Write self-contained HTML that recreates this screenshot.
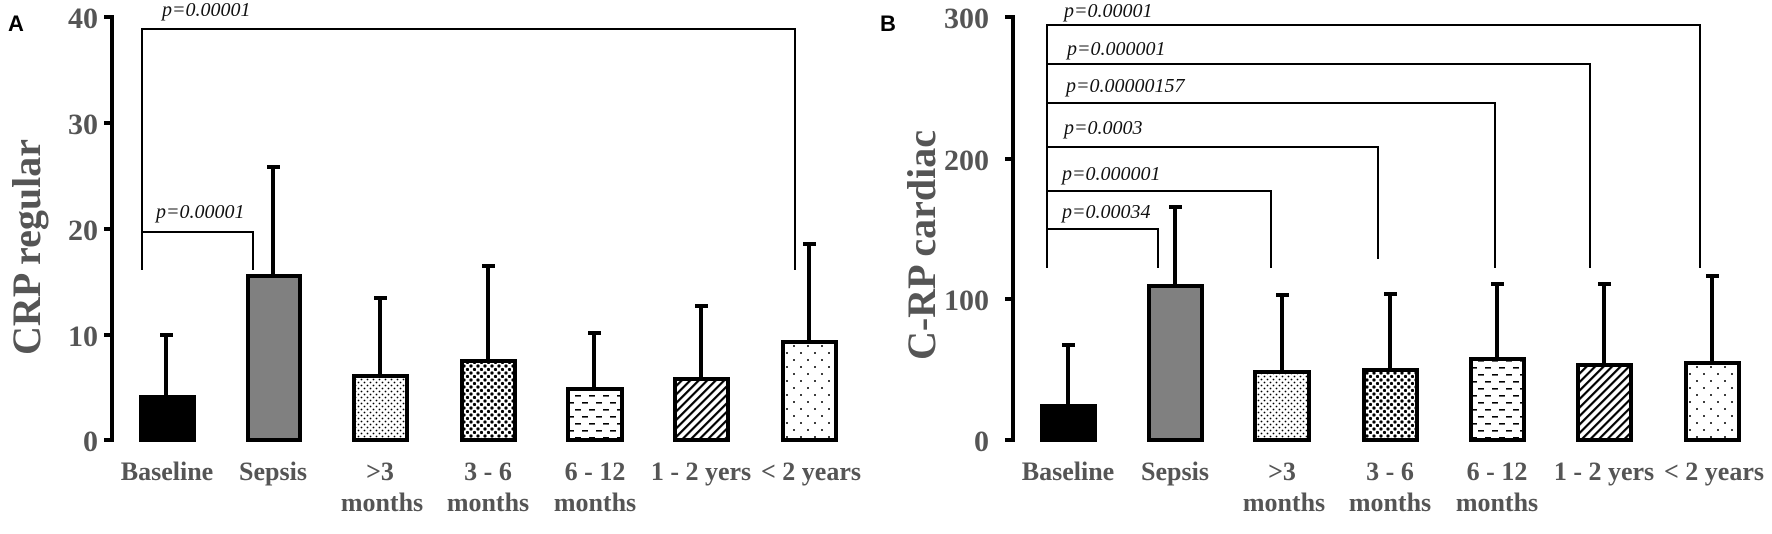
<!DOCTYPE html>
<html><head><meta charset="utf-8"><style>
html,body{margin:0;padding:0;background:#fff;}
svg{display:block}
.tk{font-family:"Liberation Serif",serif;font-weight:bold;font-size:30px;fill:#555;}
.xl{font-family:"Liberation Serif",serif;font-weight:bold;font-size:26px;fill:#555;}
.yt{font-family:"Liberation Serif",serif;font-weight:bold;font-size:40px;fill:#555;}
.p{font-family:"Liberation Serif",serif;font-style:italic;font-size:20px;fill:#111;}
.pl{font-family:"Liberation Sans",sans-serif;font-weight:bold;font-size:22px;fill:#000;}
</style></head><body>
<svg width="1772" height="534" viewBox="0 0 1772 534" xmlns="http://www.w3.org/2000/svg">
<defs>
<pattern id="sd" width="6" height="6" patternUnits="userSpaceOnUse"><rect width="6" height="6" fill="#fff"/><circle cx="1.5" cy="1.5" r="0.9" fill="#000"/><circle cx="4.5" cy="4.5" r="0.9" fill="#000"/></pattern>
<pattern id="ld" width="7" height="7" patternUnits="userSpaceOnUse"><rect width="7" height="7" fill="#fff"/><circle cx="2" cy="2" r="1.6" fill="#000"/><circle cx="5.5" cy="5.5" r="1.6" fill="#000"/></pattern>
<pattern id="da2" width="14" height="14" patternUnits="userSpaceOnUse"><rect width="14" height="14" fill="#fff"/><rect x="1" y="3" width="6" height="1.6" fill="#000"/><rect x="8" y="10" width="6" height="1.6" fill="#000"/></pattern>
<pattern id="hx" width="6" height="6" patternUnits="userSpaceOnUse" patternTransform="rotate(45)"><rect width="6" height="6" fill="#fff"/><rect x="0" y="0" width="2.2" height="6" fill="#000"/></pattern>
<pattern id="sp" width="14" height="14" patternUnits="userSpaceOnUse"><rect width="14" height="14" fill="#fff"/><circle cx="3" cy="3" r="1" fill="#000"/><circle cx="10" cy="10" r="1" fill="#000"/></pattern>
</defs>

<!-- Panel A -->
<text x="8" y="31" class="pl">A</text>
<text transform="translate(40,247) rotate(-90)" text-anchor="middle" class="yt">CRP regular</text>
<g stroke="#000" stroke-width="4" fill="none">
<line x1="112" y1="15" x2="112" y2="442"/>
<line x1="104" y1="17" x2="112" y2="17"/><line x1="104" y1="123" x2="112" y2="123"/><line x1="104" y1="229" x2="112" y2="229"/><line x1="104" y1="335" x2="112" y2="335"/><line x1="104" y1="440" x2="112" y2="440"/>
</g>
<g class="tk" text-anchor="end">
<text x="98" y="28">40</text><text x="98" y="134">30</text><text x="98" y="240">20</text><text x="98" y="346">10</text><text x="98" y="451">0</text>
</g>
<g stroke="#000" stroke-width="2" fill="none">
<polyline points="142,270 142,29 795,29 795,270"/>
<polyline points="142,232 253,232 253,270"/>
</g>
<text x="162" y="16" class="p">p=0.00001</text>
<text x="156" y="218" class="p">p=0.00001</text>
<g stroke="#000" stroke-width="4">
<line x1="166" y1="397" x2="166" y2="335"/><line x1="160" y1="335" x2="173" y2="335"/>
<line x1="273" y1="276" x2="273" y2="167"/><line x1="267" y1="167" x2="280" y2="167"/>
<line x1="380" y1="376" x2="380" y2="298"/><line x1="374" y1="298" x2="387" y2="298"/>
<line x1="488" y1="361" x2="488" y2="266"/><line x1="482" y1="266" x2="495" y2="266"/>
<line x1="594" y1="389" x2="594" y2="333"/><line x1="588" y1="333" x2="601" y2="333"/>
<line x1="701" y1="379" x2="701" y2="306"/><line x1="695" y1="306" x2="708" y2="306"/>
<line x1="809" y1="342" x2="809" y2="244"/><line x1="803" y1="244" x2="816" y2="244"/>
</g>
<g stroke="#000" stroke-width="4">
<rect x="141" y="397" width="53" height="43" fill="#000"/>
<rect x="248" y="276" width="52" height="164" fill="#808080"/>
<rect x="354" y="376" width="53" height="64" fill="url(#sd)"/>
<rect x="462" y="361" width="53" height="79" fill="url(#ld)"/>
<rect x="568" y="389" width="54" height="51" fill="url(#da2)"/>
<rect x="675" y="379" width="53" height="61" fill="url(#hx)"/>
<rect x="783" y="342" width="53" height="98" fill="url(#sp)"/>
</g>
<g class="xl" text-anchor="middle">
<text x="167" y="480">Baseline</text><text x="273" y="480">Sepsis</text>
<text x="380" y="480">&gt;3</text><text x="382" y="511">months</text>
<text x="488" y="480">3 - 6</text><text x="488" y="511">months</text>
<text x="595" y="480">6 - 12</text><text x="595" y="511">months</text>
<text x="701" y="480">1 - 2 yers</text><text x="811" y="480">&lt; 2 years</text>
</g>

<!-- Panel B -->
<text x="880" y="31" class="pl">B</text>
<text transform="translate(935,245) rotate(-90)" text-anchor="middle" class="yt">C-RP cardiac</text>
<g stroke="#000" stroke-width="4" fill="none">
<line x1="1013" y1="15" x2="1013" y2="442"/>
<line x1="1005" y1="17" x2="1013" y2="17"/><line x1="1005" y1="159" x2="1013" y2="159"/><line x1="1005" y1="299" x2="1013" y2="299"/><line x1="1005" y1="440" x2="1013" y2="440"/>
</g>
<g class="tk" text-anchor="end">
<text x="989" y="28">300</text><text x="989" y="170">200</text><text x="989" y="310">100</text><text x="989" y="451">0</text>
</g>
<g stroke="#000" stroke-width="2" fill="none">
<polyline points="1047,268 1047,25 1700,25 1700,268"/>
<polyline points="1047,64 1590,64 1590,268"/>
<polyline points="1047,103 1495,103 1495,268"/>
<polyline points="1047,147 1378,147 1378,259"/>
<polyline points="1047,191 1271,191 1271,268"/>
<polyline points="1047,229 1158,229 1158,268"/>
</g>
<g class="p">
<text x="1064" y="17">p=0.00001</text>
<text x="1067" y="55">p=0.000001</text>
<text x="1066" y="92">p=0.00000157</text>
<text x="1064" y="134">p=0.0003</text>
<text x="1062" y="180">p=0.000001</text>
<text x="1062" y="218">p=0.00034</text>
</g>
<g stroke="#000" stroke-width="4">
<line x1="1068" y1="406" x2="1068" y2="345"/><line x1="1062" y1="345" x2="1075" y2="345"/>
<line x1="1175" y1="286" x2="1175" y2="207"/><line x1="1169" y1="207" x2="1182" y2="207"/>
<line x1="1282" y1="372" x2="1282" y2="295"/><line x1="1276" y1="295" x2="1289" y2="295"/>
<line x1="1390" y1="370" x2="1390" y2="294"/><line x1="1384" y1="294" x2="1397" y2="294"/>
<line x1="1497" y1="359" x2="1497" y2="284"/><line x1="1491" y1="284" x2="1504" y2="284"/>
<line x1="1604" y1="365" x2="1604" y2="284"/><line x1="1598" y1="284" x2="1611" y2="284"/>
<line x1="1712" y1="363" x2="1712" y2="276"/><line x1="1706" y1="276" x2="1719" y2="276"/>
</g>
<g stroke="#000" stroke-width="4">
<rect x="1042" y="406" width="53" height="34" fill="#000"/>
<rect x="1149" y="286" width="53" height="154" fill="#808080"/>
<rect x="1255" y="372" width="54" height="68" fill="url(#sd)"/>
<rect x="1364" y="370" width="53" height="70" fill="url(#ld)"/>
<rect x="1471" y="359" width="53" height="81" fill="url(#da2)"/>
<rect x="1578" y="365" width="53" height="75" fill="url(#hx)"/>
<rect x="1686" y="363" width="53" height="77" fill="url(#sp)"/>
</g>
<g class="xl" text-anchor="middle">
<text x="1068" y="480">Baseline</text><text x="1175" y="480">Sepsis</text>
<text x="1282" y="480">&gt;3</text><text x="1284" y="511">months</text>
<text x="1390" y="480">3 - 6</text><text x="1390" y="511">months</text>
<text x="1497" y="480">6 - 12</text><text x="1497" y="511">months</text>
<text x="1604" y="480">1 - 2 yers</text><text x="1714" y="480">&lt; 2 years</text>
</g>
</svg>
</body></html>
